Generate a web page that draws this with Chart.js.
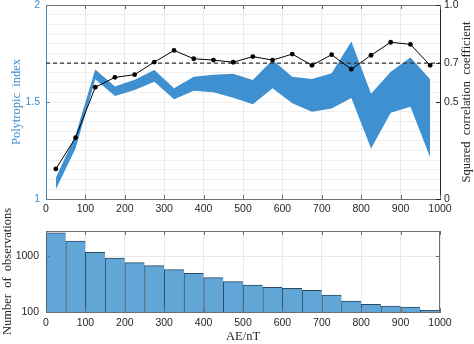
<!DOCTYPE html>
<html>
<head>
<meta charset="utf-8">
<script src="https://cdn.jsdelivr.net/npm/chart.js@4.4.0/dist/chart.umd.min.js"></script>
<style>
  body { margin: 0; background: #fff; width: 474px; height: 344px; position: relative; overflow: hidden; }
  canvas { position: absolute; left: 0; }
  #top-chart { top: 0; }
  #hist-chart { top: 190px; }
</style>
</head>
<body>
<canvas id="top-chart" width="474" height="222"></canvas>
<canvas id="hist-chart" width="474" height="154"></canvas>
<script>
// data
const aeCenters = [25, 75, 125, 175, 225, 275, 325, 375, 425, 475, 525, 575, 625, 675, 725, 775, 825, 875, 925, 975];
const indexUpper = [1.11, 1.33, 1.668, 1.58, 1.615, 1.665, 1.571, 1.63, 1.64, 1.646, 1.613, 1.716, 1.63, 1.619, 1.648, 1.812, 1.543, 1.656, 1.73, 1.617];
const indexLower = [1.05, 1.26, 1.617, 1.531, 1.562, 1.605, 1.514, 1.558, 1.55, 1.522, 1.488, 1.571, 1.493, 1.45, 1.467, 1.521, 1.26, 1.445, 1.476, 1.215];
const r2 = [0.155, 0.316, 0.576, 0.627, 0.641, 0.706, 0.766, 0.723, 0.716, 0.705, 0.734, 0.716, 0.747, 0.689, 0.744, 0.669, 0.741, 0.808, 0.797, 0.689];
const r2Threshold = 0.7;
const obsCounts = [2600, 1850, 1165, 920, 760, 672, 570, 490, 410, 348, 303, 276, 264, 245, 200, 157, 137, 128, 123, 107];
const leftTicks = [1, 1.5, 2];
const rightTicks = [0, 0.5, 0.7, 1];
const countTicks = [100, 1000];

const BLUE = '#3d8bcd';
const BAND = '#3f90d0';
const DARK = '#262626';
const EDGE = '#6e6e6e';
const GRID = '#e8e8e8';
const tickFont = { family: 'Liberation Sans, Arial, sans-serif', size: 10.5 };
const titleFont = { family: 'Liberation Serif, Times New Roman, serif', size: 12.5 };

const pts = (ys) => aeCenters.map((x, i) => ({ x, y: ys[i] }));

function vTitle(ctx, text, x, y) {
  ctx.save();
  ctx.fillStyle = DARK;
  ctx.font = titleFont.size + 'px ' + titleFont.family;
  ctx.textAlign = 'center';
  ctx.textBaseline = 'middle';
  ctx.translate(x, y);
  ctx.rotate(-Math.PI / 2);
  ctx.fillText(text, 0, 0);
  ctx.restore();
}

// draws the frame and the inward tick marks like the original
const framePlugin = {
  id: 'frame',
  afterDraw(chart, args, opts) {
    const { ctx, chartArea: a, scales } = chart;
    ctx.save();
    ctx.lineWidth = 1;
    ctx.strokeStyle = EDGE;
    ctx.beginPath();
    ctx.moveTo(a.left, a.top + 0.5);
    ctx.lineTo(a.right, a.top + 0.5);
    if (!scales.y2) {
      ctx.moveTo(a.right - 0.5, a.top);
      ctx.lineTo(a.right - 0.5, a.bottom);
    }
    ctx.stroke();
    // x ticks
    ctx.beginPath();
    scales.x.ticks.forEach(t => {
      const px = Math.round(scales.x.getPixelForValue(t.value)) + 0.5;
      ctx.moveTo(px, a.bottom); ctx.lineTo(px, a.bottom - 4);
      ctx.moveTo(px, a.top); ctx.lineTo(px, a.top + 4);
    });
    ctx.stroke();
    // left ticks
    ctx.strokeStyle = opts.leftColor || EDGE;
    ctx.beginPath();
    (opts.leftTicks || []).forEach(v => {
      const py = Math.round(scales.y.getPixelForValue(v)) + 0.5;
      ctx.moveTo(a.left, py); ctx.lineTo(a.left + 4, py);
      if (!scales.y2) { ctx.moveTo(a.right, py); ctx.lineTo(a.right - 4, py); }
    });
    ctx.stroke();
    if (scales.y2) {
      ctx.strokeStyle = DARK;
      ctx.beginPath();
      rightTicks.forEach(v => {
        const py = Math.round(scales.y2.getPixelForValue(v)) + 0.5;
        ctx.moveTo(a.right, py); ctx.lineTo(a.right - 4, py);
      });
      ctx.stroke();
    }
    ctx.restore();
    if (opts.vTitle) vTitle(ctx, opts.vTitle, opts.vTitleX, (a.top + a.bottom) / 2);
  }
};

new Chart(document.getElementById('top-chart'), {
  type: 'line',
  data: {
    datasets: [
      {
        label: 'R2',
        data: pts(r2),
        yAxisID: 'y2',
        borderColor: '#000',
        borderWidth: 1,
        pointRadius: 2.4,
        pointBackgroundColor: '#000',
        pointBorderWidth: 0,
        fill: false,
      },
      {
        label: 'threshold',
        data: [{ x: 0, y: r2Threshold }, { x: 1000, y: r2Threshold }],
        yAxisID: 'y2',
        borderColor: '#333',
        borderWidth: 1.2,
        borderDash: [4, 3],
        pointRadius: 0,
        fill: false,
      },
      {
        label: 'upper',
        data: pts(indexUpper),
        yAxisID: 'y',
        borderWidth: 0,
        borderColor: BAND,
        backgroundColor: BAND,
        pointRadius: 0,
        fill: '+1',
      },
      {
        label: 'lower',
        data: pts(indexLower),
        yAxisID: 'y',
        borderWidth: 0,
        borderColor: BAND,
        pointRadius: 0,
        fill: false,
      },
    ],
  },
  options: {
    responsive: false,
    animation: false,
    devicePixelRatio: 1,
    layout: { padding: { top: 5, left: 0, right: 0, bottom: 0 } },
    plugins: {
      legend: { display: false }, tooltip: { enabled: false },
      frame: { leftColor: BLUE, leftTicks, vTitle: 'Squared  correlation  coefficient', vTitleX: 467 },
    },
    scales: {
      x: {
        type: 'linear', min: 0, max: 1000,
        ticks: { stepSize: 100, color: DARK, font: tickFont, padding: 4, maxRotation: 0, autoSkip: false, callback: v => String(v) },
        grid: { color: GRID, drawTicks: false },
        border: { color: EDGE },
        afterFit: s => { s.height = 23; s.paddingLeft = 0; s.paddingRight = 0; },
      },
      y: {
        position: 'left', min: 1, max: 2,
        ticks: {
          stepSize: 0.05, autoSkip: false, color: BLUE, font: tickFont, padding: 6,
          callback: v => leftTicks.some(t => Math.abs(t - v) < 1e-6) ? String(Math.round(v * 10) / 10) : '',
        },
        grid: { color: '#efefef', drawTicks: false },
        border: { color: BLUE },
        title: { display: true, text: 'Polytropic  index', color: BLUE, font: titleFont, padding: { top: 9, bottom: 0 } },
        afterFit: s => { s.width = 46; s.paddingTop = 0; s.paddingBottom = 0; },
      },
      y2: {
        position: 'right', min: 0, max: 1,
        afterBuildTicks: s => { s.ticks = rightTicks.map(value => ({ value })); },
        ticks: { color: DARK, font: tickFont, padding: 4, autoSkip: false },
        grid: { drawOnChartArea: false, drawTicks: false },
        border: { color: DARK },
        afterFit: s => { s.width = 34; s.paddingTop = 0; s.paddingBottom = 0; },
      },
    },
  },
  plugins: [framePlugin],
});

new Chart(document.getElementById('hist-chart'), {
  type: 'bar',
  data: {
    datasets: [{
      label: 'observations',
      data: aeCenters.map((x, i) => ({ x, y: obsCounts[i] })),
      backgroundColor: '#62a6d8',
      borderColor: '#2a4a63',
      borderWidth: { top: 1, left: 1, right: 0, bottom: 0 },
      borderSkipped: false,
      barPercentage: 1,
      categoryPercentage: 1,
    }],
  },
  options: {
    responsive: false,
    animation: false,
    devicePixelRatio: 1,
    layout: { padding: { top: 41, left: 0, right: 34, bottom: 0 } },
    plugins: {
      legend: { display: false }, tooltip: { enabled: false },
      frame: { leftColor: EDGE, leftTicks: countTicks, vTitle: 'Number  of  observations', vTitleX: 8 },
    },
    scales: {
      x: {
        type: 'linear', min: 0, max: 1000, offset: false,
        ticks: { stepSize: 100, color: DARK, font: tickFont, padding: 5, maxRotation: 0, autoSkip: false, callback: v => String(v) },
        grid: { color: GRID, drawTicks: false, offset: false },
        border: { color: EDGE },
        title: { display: true, text: 'AE/nT', color: DARK, font: titleFont, padding: { top: 0, bottom: 0 } },
        afterFit: s => { s.height = 32; s.paddingLeft = 0; s.paddingRight = 0; },
      },
      y: {
        type: 'logarithmic', min: 100, max: 2800,
        afterBuildTicks: s => { s.ticks = countTicks.map(value => ({ value })); },
        ticks: { color: DARK, font: tickFont, padding: 7, autoSkip: false, callback: v => String(v) },
        grid: { color: GRID, drawTicks: false },
        border: { color: EDGE },
        afterFit: s => { s.width = 46; s.paddingTop = 0; s.paddingBottom = 0; },
      },
    },
  },
  plugins: [framePlugin],
});
</script>
</body>
</html>
